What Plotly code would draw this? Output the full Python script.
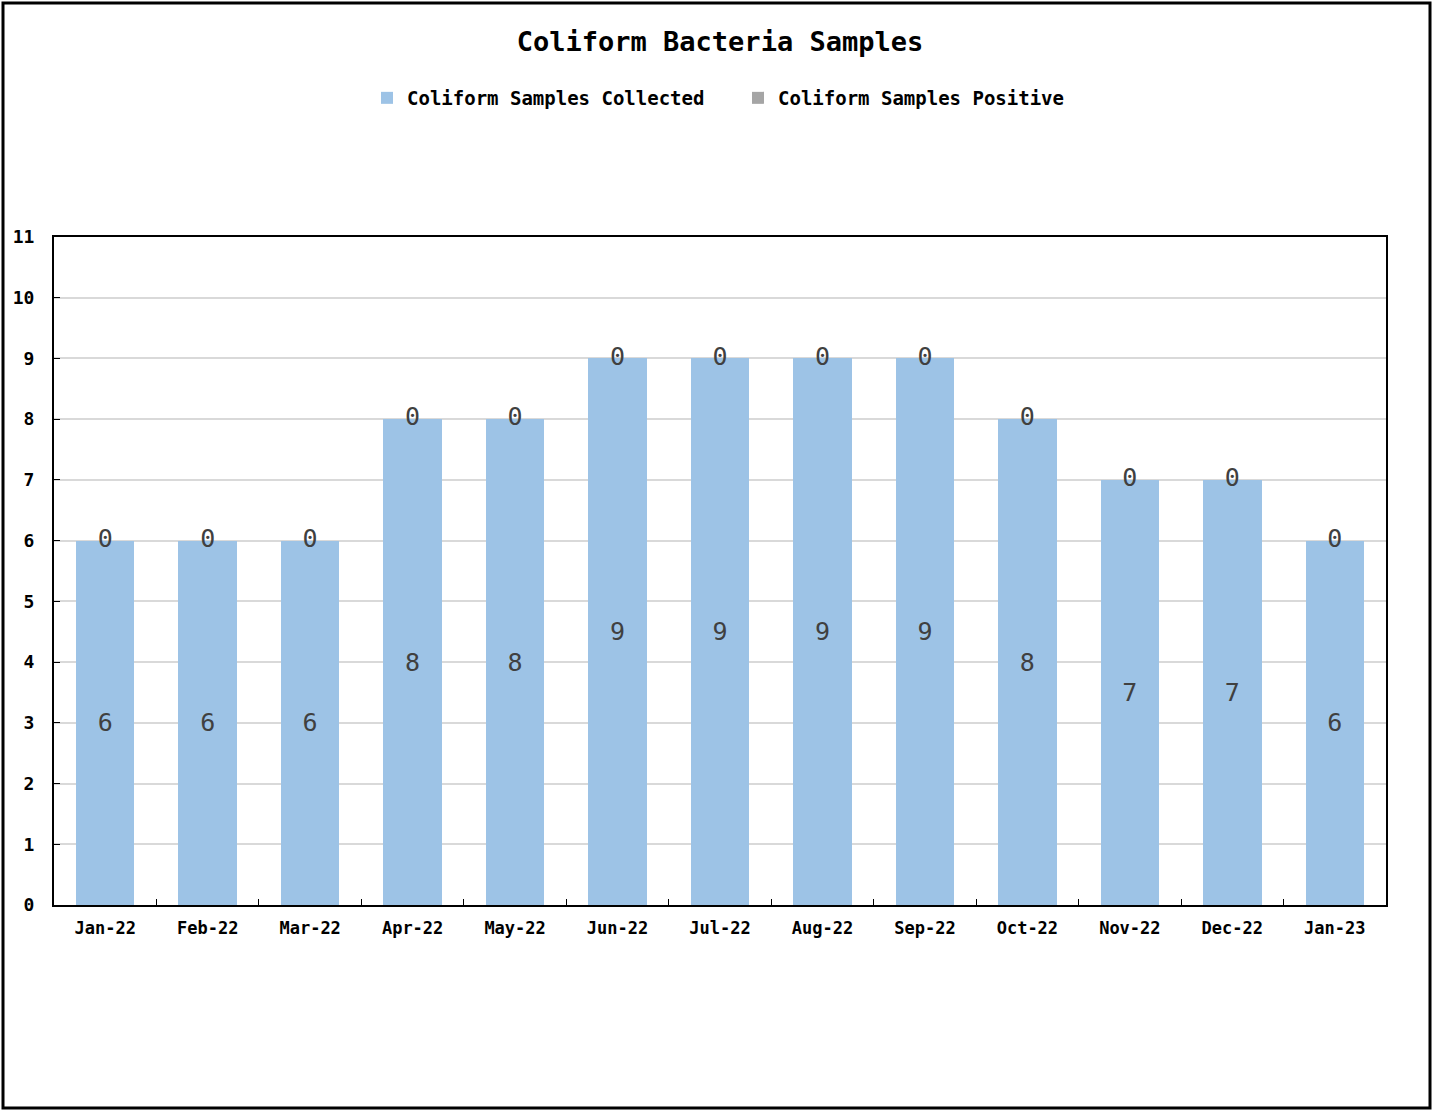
import plotly.graph_objects as go

months = ["Jan-22", "Feb-22", "Mar-22", "Apr-22", "May-22", "Jun-22", "Jul-22",
          "Aug-22", "Sep-22", "Oct-22", "Nov-22", "Dec-22", "Jan-23"]
collected = [6, 6, 6, 8, 8, 9, 9, 9, 9, 8, 7, 7, 6]
positive = [0, 0, 0, 0, 0, 0, 0, 0, 0, 0, 0, 0, 0]
y_ticks = list(range(0, 12))

FONT = "DejaVu Sans Mono"
W, H = 1438, 1110
L, R, T, B = 54, 52, 237, 205
pw, ph = W - L - R, H - T - B

fig = go.Figure()
fig.add_trace(go.Bar(
    x=months, y=collected, name="<b>Coliform Samples Collected</b>",
    marker=dict(color="#9DC3E6", line=dict(width=0)),
    text=collected, textposition="inside", insidetextanchor="middle",
    textfont=dict(family=FONT, size=25, color="#404040"),
    textangle=0, hoverinfo="x+y",
))
fig.add_trace(go.Bar(
    x=months, y=positive, name="<b>Coliform Samples Positive</b>",
    marker=dict(color="#A5A5A5", line=dict(width=0)),
    hoverinfo="x+y",
))
fig.add_trace(go.Scatter(
    x=months, y=[c + p for c, p in zip(collected, positive)],
    mode="text", text=[str(p) for p in positive], textposition="middle center",
    textfont=dict(family=FONT, size=25, color="#404040"),
    showlegend=False, hoverinfo="skip",
))

# page border
fig.add_shape(type="rect", xref="paper", yref="paper",
              x0=(3 - L) / pw, x1=(1430 - L) / pw,
              y0=(H - B - 1108) / ph, y1=(H - B - 3) / ph,
              line=dict(color="black", width=3), layer="above")

fig.update_layout(
    width=W, height=H,
    margin=dict(l=L, r=R, t=T, b=B, autoexpand=False),
    paper_bgcolor="white", plot_bgcolor="white",
    barmode="stack", bargap=0.43,
    font=dict(family=FONT, color="black"),
    title=dict(text="<b>Coliform Bacteria Samples</b>", x=0.5, xref="paper",
               y=1 - 42 / H, yanchor="middle", yref="container",
               font=dict(family=FONT, size=27, color="black")),
    legend=dict(orientation="h", x=0.5 + 18 / pw, xanchor="center",
                y=(H - B - 98) / ph, yanchor="middle",
                font=dict(family=FONT, size=19, color="black"),
                itemwidth=30, traceorder="normal", entrywidth=326),
    showlegend=True,
)
fig.update_xaxes(
    type="category", range=[-0.5, len(months) - 0.5], autorange=False,
    showline=True, linecolor="black", linewidth=2, mirror=True,
    ticks="inside", ticklen=6, tickcolor="black", tickson="boundaries",
    tickfont=dict(family=FONT, size=17, color="black"),
    ticklabelstandoff=7,
    showgrid=False,
    tickvals=months, ticktext=[f"<b>{m}</b>" for m in months],
)
fig.update_yaxes(
    range=[0, 11], tickvals=y_ticks, ticktext=[f"<b>{v}</b>" for v in y_ticks],
    showline=True, linecolor="black", linewidth=2, mirror=True,
    ticks="inside", ticklen=6, tickcolor="black",
    tickfont=dict(family=FONT, size=18, color="black"),
    showgrid=True, gridcolor="#D9D9D9", gridwidth=2,
    ticklabelstandoff=14, zeroline=False,
)

fig.write_html("out.html", config={"displayModeBar": False},
               post_script="document.body.style.margin='0';document.body.style.overflow='hidden';")
